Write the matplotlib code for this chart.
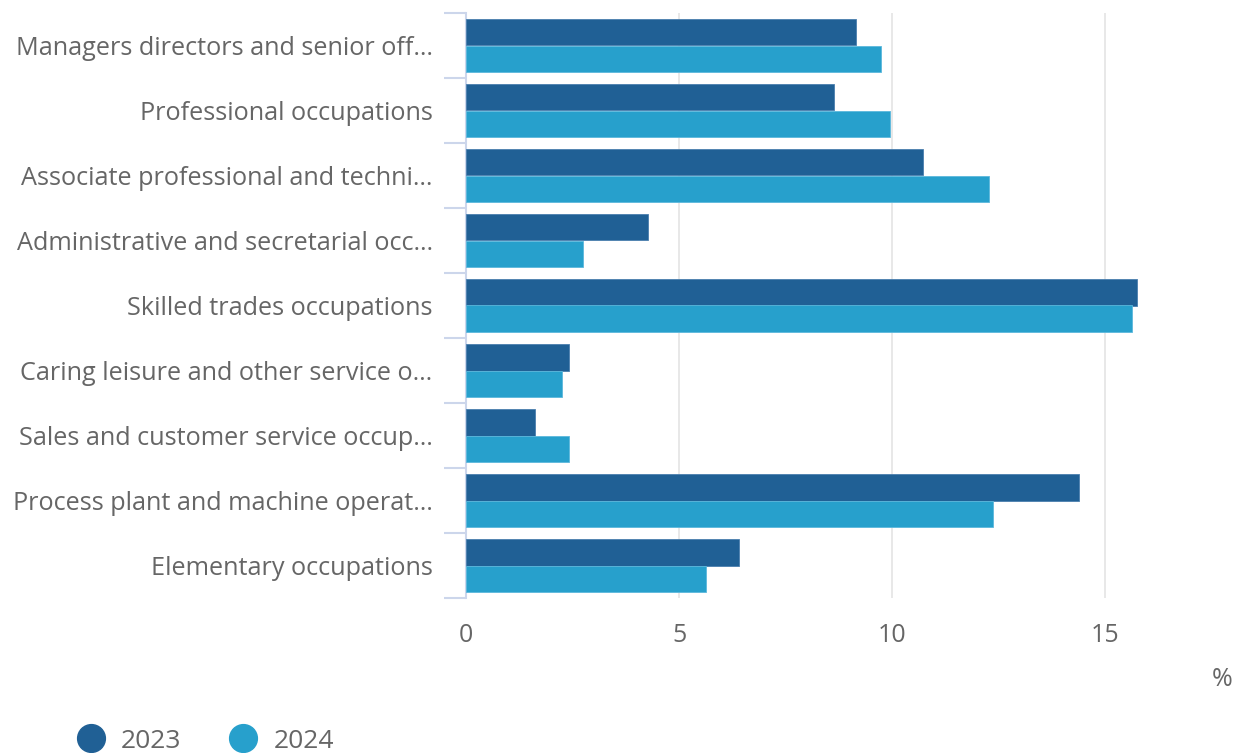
import numpy as np
import matplotlib.pyplot as plt
from matplotlib.lines import Line2D

plt.rcParams['font.family'] = ['Open Sans', 'DejaVu Sans']

categories = [
    "Managers directors and senior off…",
    "Professional occupations",
    "Associate professional and techni…",
    "Administrative and secretarial occ…",
    "Skilled trades occupations",
    "Caring leisure and other service o…",
    "Sales and customer service occup…",
    "Process plant and machine operat…",
    "Elementary occupations",
]
vals_2023 = [9.15, 8.64, 10.73, 4.27, 15.75, 2.42, 1.62, 14.39, 6.41]
vals_2024 = [9.74, 9.95, 12.28, 2.75, 15.63, 2.25, 2.42, 12.37, 5.63]
series = ["2023", "2024"]
colors = ["#206095", "#27a0cc"]

text_col = "#666666"

fig = plt.figure(figsize=(12.42, 7.53), dpi=100)
ax = fig.add_axes([466 / 1242, 1 - 598 / 753, (1233 - 466) / 1242, (598 - 13) / 753])

y = np.arange(len(categories))
h = 0.415
ax.barh(y - h / 2, vals_2023, height=h, color=colors[0], edgecolor="#4a7fae", linewidth=0.6, zorder=3)
ax.barh(y + h / 2, vals_2024, height=h, color=colors[1], edgecolor="#5cb8dc", linewidth=0.6, zorder=3)

ax.set_ylim(len(categories) - 0.5, -0.5)
ax.set_xlim(0, 18)
ax.set_xticks([0, 5, 10, 15])
ax.xaxis.grid(True, color="#e6e6e6", linewidth=1.3, zorder=0)

ax.set_yticks(y)
ax.set_yticklabels(categories, fontsize=18.2, color=text_col)
ax.set_yticks(np.arange(-0.5, len(categories)), minor=True)
ax.tick_params(axis="y", which="major", length=0, pad=24)
ax.tick_params(axis="y", which="minor", length=16, width=1.5, color="#ccd6eb")
ax.tick_params(axis="x", length=0, pad=18, labelsize=18, labelcolor=text_col)

for s in ["top", "right", "bottom"]:
    ax.spines[s].set_visible(False)
ax.spines["left"].set_color("#ccd6eb")
ax.spines["left"].set_linewidth(1.5)

fig.text(1222 / 1242, 1 - 679 / 753, "%", fontsize=18, color=text_col, ha="center", va="center")

handles = [Line2D([], [], marker="o", linestyle="", markersize=20, markerfacecolor=c, markeredgecolor=c)
           for c in colors]
fig.legend(handles, series, loc="center left", bbox_to_anchor=(51 / 1242, 1 - 741 / 753),
           frameon=False, ncol=2, fontsize=19, labelcolor=text_col,
           handletextpad=0.55, columnspacing=1.75, handlelength=1.2)

fig.savefig("out.png", dpi=100)
